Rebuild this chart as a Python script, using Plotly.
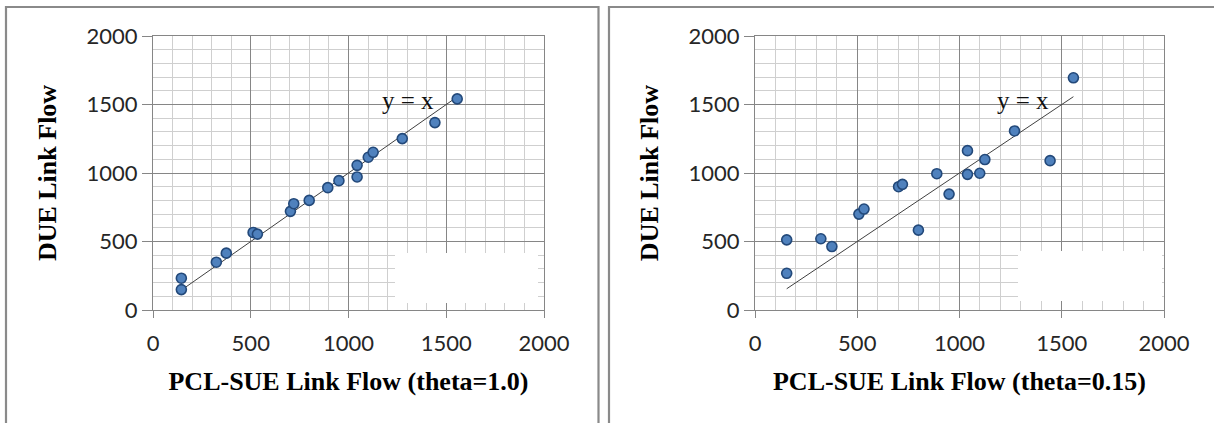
import plotly.graph_objects as go

# ---- data ----
pcl_theta10 = [145, 145, 324, 375, 512, 534, 703, 720, 799, 894, 951, 1044, 1044, 1101, 1126, 1275, 1442, 1556]
due_theta10 = [232, 149, 349, 415, 566, 554, 720, 776, 800, 893, 944, 1056, 971, 1115, 1151, 1251, 1368, 1541]

pcl_theta015 = [155, 155, 322, 376, 508, 533, 702, 721, 799, 889, 949, 1039, 1039, 1099, 1124, 1269, 1443, 1557]
due_theta015 = [512, 268, 520, 463, 700, 737, 900, 917, 583, 995, 846, 1163, 990, 998, 1098, 1307, 1090, 1695]

x_titles = ["PCL-SUE Link Flow (theta=1.0)", "PCL-SUE Link Flow (theta=0.15)"]
y_title = "DUE Link Flow"
ref_label = "y = x"
axis_range = [0, 2000]
tick_vals = [0, 500, 1000, 1500, 2000]

W, H = 1214, 423
MAJOR = "#868686"
MINOR = "#cfcfcf"
FILL = "#4f81bd"
EDGE = "#23497a"
TICKFONT = dict(family="Lato", size=22, color="#262626")
TITLEFONT = dict(family="Liberation Serif", size=26, color="#000000", weight="bold")

fig = go.Figure()

panels = [
    (pcl_theta10, due_theta10, "x", "y"),
    (pcl_theta015, due_theta015, "x2", "y2"),
]
for xs, ys, xa, ya in panels:
    lo, hi = min(xs), max(xs)
    fig.add_trace(go.Scatter(x=[lo, hi], y=[lo, hi], mode="lines",
                             line=dict(color="#404040", width=1),
                             xaxis=xa, yaxis=ya, showlegend=False, hoverinfo="skip"))
    fig.add_trace(go.Scatter(x=xs, y=ys, mode="markers",
                             marker=dict(symbol="circle", size=10, color=FILL,
                                         line=dict(color=EDGE, width=1.6)),
                             xaxis=xa, yaxis=ya, showlegend=False))

def px_x(p):
    return p / W

def px_y(p):
    return (H - p) / H

ydom = [px_y(310), px_y(36)]
xdoms = [[px_x(153), px_x(544)], [px_x(755), px_x(1164)]]

def xaxis_cfg(dom, anchor, title):
    return dict(domain=dom, anchor=anchor, range=axis_range, tickvals=tick_vals,
                showgrid=True, gridcolor=MAJOR, gridwidth=1,
                minor=dict(dtick=100, showgrid=True, gridcolor=MINOR, gridwidth=1, tick0=0),
                showline=True, linecolor=MAJOR, linewidth=1, mirror=True,
                ticks="outside", ticklen=7, tickcolor=MAJOR, tickwidth=1,
                ticklabelstandoff=7,
                zeroline=False, tickfont=TICKFONT, automargin=False,
                title=dict(text=title, font=TITLEFONT, standoff=16))

def yaxis_cfg(anchor):
    return dict(domain=ydom, anchor=anchor, range=axis_range, tickvals=tick_vals,
                showgrid=True, gridcolor=MAJOR, gridwidth=1,
                minor=dict(dtick=100, showgrid=True, gridcolor=MINOR, gridwidth=1, tick0=0),
                showline=True, linecolor=MAJOR, linewidth=1, mirror=True,
                ticks="outside", ticklen=10, tickcolor=MAJOR, tickwidth=1,
                zeroline=False, tickfont=TICKFONT, automargin=False,
                title=dict(text=y_title, font=TITLEFONT, standoff=22))

fig.update_layout(
    width=W, height=H,
    margin=dict(l=0, r=0, t=0, b=0),
    paper_bgcolor="white", plot_bgcolor="white",
    xaxis=xaxis_cfg(xdoms[0], "y", x_titles[0]),
    yaxis=yaxis_cfg("x"),
    xaxis2=xaxis_cfg(xdoms[1], "y2", x_titles[1]),
    yaxis2=yaxis_cfg("x2"),
)

# "y = x" labels
for xr, yr, lx in (("x", "y", 1304), ("x2", "y2", 1311)):
    fig.add_annotation(x=lx, y=1531, xref=xr, yref=yr, text=ref_label, showarrow=False,
                       font=dict(family="Liberation Serif", size=25, color="#111111"))

# white blank boxes over the grid (removed legend area)
boxes = [(395, 538, 253, 303), (1018, 1162, 251, 301)]
for x0, x1, y0, y1 in boxes:
    fig.add_shape(type="rect", xref="paper", yref="paper",
                  x0=px_x(x0), x1=px_x(x1), y0=px_y(y1), y1=px_y(y0),
                  fillcolor="white", line=dict(width=0), layer="above")

# panel frames
frames = [(6, 598.5), (609, 1230)]
for x0, x1 in frames:
    fig.add_shape(type="rect", xref="paper", yref="paper",
                  x0=px_x(x0), x1=px_x(x1), y0=px_y(440), y1=px_y(7),
                  fillcolor="rgba(0,0,0,0)", line=dict(color="#8a8a8a", width=2.2),
                  layer="above")

fig.write_html("out.html")
